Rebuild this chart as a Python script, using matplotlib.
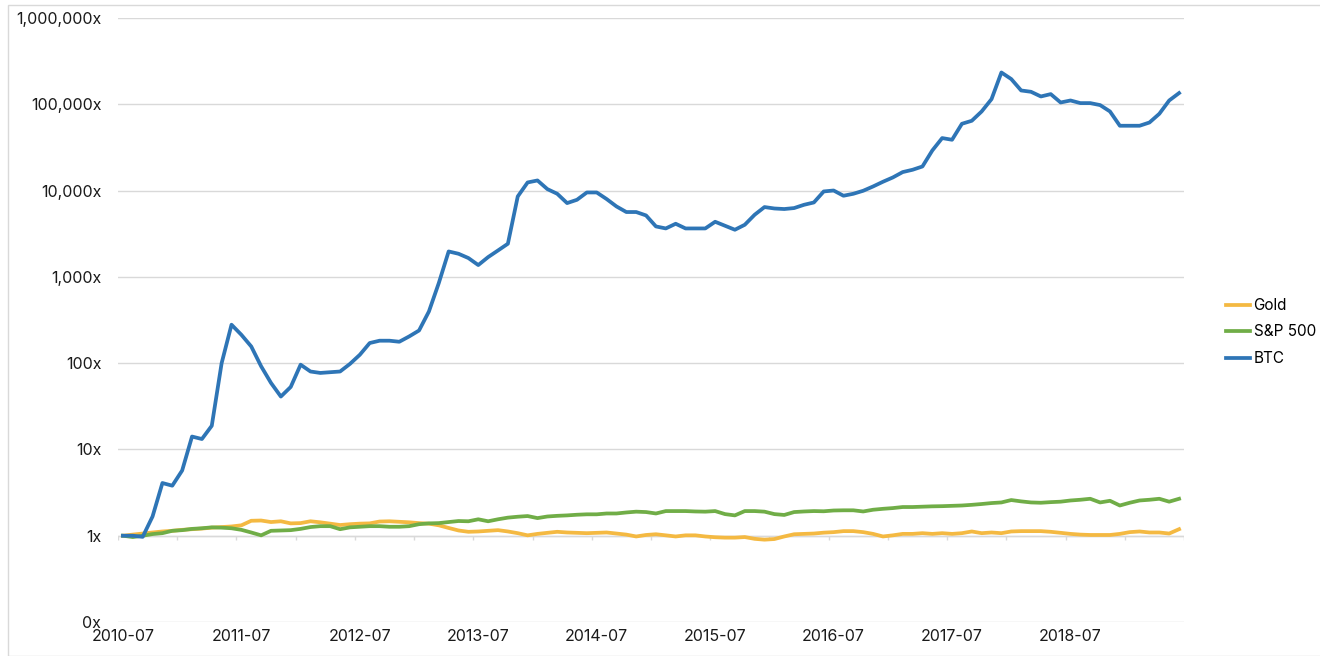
import matplotlib
matplotlib.use('Agg')
import matplotlib.pyplot as plt
import matplotlib.ticker as mticker
from matplotlib.patches import Rectangle
import pandas as pd

plt.rcParams['font.family'] = ['Inter', 'DejaVu Sans']

# monthly multiples since 2010-07
months = pd.period_range('2010-07', periods=108, freq='M').strftime('%Y-%m').tolist()

btc = [1.0, 1.0, 0.97, 1.67, 4.08, 3.8, 5.7, 14.1, 13.2, 18.8,
       100, 279, 213, 156, 92, 59, 41, 53, 96, 80,
       77, 78.5, 80, 98, 125, 171, 182, 182, 177, 204,
       239, 397, 847, 1970, 1852, 1652, 1370, 1695, 2023, 2420,
       8550, 12420, 13100, 10400, 9180, 7160, 7820, 9510, 9510, 7980,
       6550, 5640, 5640, 5150, 3840, 3640, 4125, 3640, 3640, 3640,
       4350, 3910, 3515, 4015, 5245, 6440, 6200, 6110, 6270, 6840,
       7280, 9770, 10020, 8710, 9180, 9950, 11160, 12650, 14190, 16380,
       17420, 19020, 29150, 40590, 38800, 59450, 64400, 82600, 114800, 233700,
       196000, 144600, 139600, 123200, 131200, 104900, 110700, 103200, 103200, 97900,
       82600, 56400, 56400, 56400, 61500, 77600, 110700, 134900]

gold = [1.0, 1.03, 1.06, 1.09, 1.12, 1.14, 1.17, 1.19, 1.21, 1.24,
        1.26, 1.28, 1.32, 1.49, 1.50, 1.44, 1.47, 1.39, 1.40, 1.47,
        1.43, 1.38, 1.33, 1.36, 1.38, 1.39, 1.46, 1.47, 1.45, 1.43,
        1.40, 1.38, 1.32, 1.23, 1.15, 1.11, 1.12, 1.14, 1.16, 1.12,
        1.07, 1.01, 1.05, 1.08, 1.11, 1.09, 1.08, 1.07, 1.08, 1.09,
        1.06, 1.03, 0.98, 1.02, 1.04, 1.01, 0.98, 1.01, 1.01, 0.98,
        0.96, 0.95, 0.95, 0.965, 0.92, 0.90, 0.915, 0.98, 1.04, 1.05,
        1.06, 1.085, 1.1, 1.13, 1.13, 1.10, 1.05, 0.98, 1.01, 1.05,
        1.05, 1.07, 1.05, 1.07, 1.05, 1.07, 1.12, 1.07, 1.09, 1.07,
        1.12, 1.13, 1.13, 1.13, 1.11, 1.08, 1.05, 1.03, 1.02, 1.02,
        1.02, 1.05, 1.10, 1.12, 1.09, 1.09, 1.06, 1.19]

spx = [1.0, 0.965, 1.0, 1.045, 1.07, 1.14, 1.16, 1.2, 1.22, 1.25,
       1.24, 1.22, 1.17, 1.09, 1.01, 1.14, 1.15, 1.16, 1.2, 1.26,
       1.29, 1.29, 1.19, 1.25, 1.27, 1.29, 1.29, 1.27, 1.27, 1.29,
       1.36, 1.39, 1.40, 1.44, 1.48, 1.47, 1.55, 1.47, 1.55, 1.62,
       1.66, 1.69, 1.6, 1.67, 1.70, 1.72, 1.75, 1.77, 1.77, 1.81,
       1.81, 1.86, 1.90, 1.88, 1.81, 1.93, 1.93, 1.93, 1.91, 1.9,
       1.93, 1.78, 1.72, 1.93, 1.93, 1.9, 1.78, 1.74, 1.88, 1.91,
       1.93, 1.92, 1.96, 1.97, 1.97, 1.91, 2.0, 2.05, 2.09, 2.15,
       2.15, 2.17, 2.19, 2.2, 2.22, 2.24, 2.28, 2.33, 2.39, 2.43,
       2.59, 2.5, 2.43, 2.41, 2.45, 2.48, 2.56, 2.61, 2.68, 2.43,
       2.54, 2.24, 2.41, 2.56, 2.61, 2.68, 2.48, 2.68]

series = ['Gold', 'S&P 500', 'BTC']
colors = ['#F4B942', '#70AD47', '#2E75B6']

fig = plt.figure(figsize=(13.2, 6.56), dpi=100)
ax = fig.add_axes([118 / 1320, 1 - 622 / 656, (1184 - 118) / 1320, (622 - 18) / 656])

x = list(range(len(months)))

# category axis crosses at 1x, with tick marks every 6 months
ax.axhline(1, color='#d9d9d9', lw=1, zorder=1)
ax.vlines([i - 0.5 for i in range(0, len(months) + 1, 6)], 0.9, 1, color='#d9d9d9', lw=1, zorder=1)

lines = []
for name, vals, c in zip(series, [gold, spx, btc], colors):
    ln, = ax.plot(x, vals, color=c, lw=2.7, label=name, solid_joinstyle='round', zorder=3)
    lines.append(ln)

ax.set_yscale('log')
ax.set_ylim(0.1, 1e6)
ax.set_xlim(-0.5, len(months) - 0.5)
ax.yaxis.set_major_locator(mticker.LogLocator(base=10, numticks=10))
ax.yaxis.set_minor_locator(mticker.NullLocator())
ax.yaxis.set_major_formatter(mticker.FuncFormatter(lambda v, p: f'{v:,.0f}x'))
ax.grid(axis='y', color='#d9d9d9', lw=1)
ax.set_axisbelow(True)
for s in ax.spines.values():
    s.set_visible(False)

ax.set_xticks(x[::12], [months[i] for i in x[::12]])
ax.tick_params(axis='both', length=0, labelsize=11.5, colors='#1a1a1a')
ax.tick_params(axis='y', pad=12)
ax.tick_params(axis='x', pad=5)

fig.legend(handles=lines, loc='center left', bbox_to_anchor=(1226 / 1320, 1 - 332 / 656),
           frameon=False, fontsize=11, handlelength=1.6, handletextpad=0.2,
           labelspacing=0.75, borderpad=0, borderaxespad=0)

# chart border
fig.patches.append(Rectangle((8 / 1320, 0.0005), 1.2, 0.9995 - 5 / 656, transform=fig.transFigure,
                             fill=False, edgecolor='#d9d9d9', lw=1))

plt.savefig('out.png', dpi=100)
